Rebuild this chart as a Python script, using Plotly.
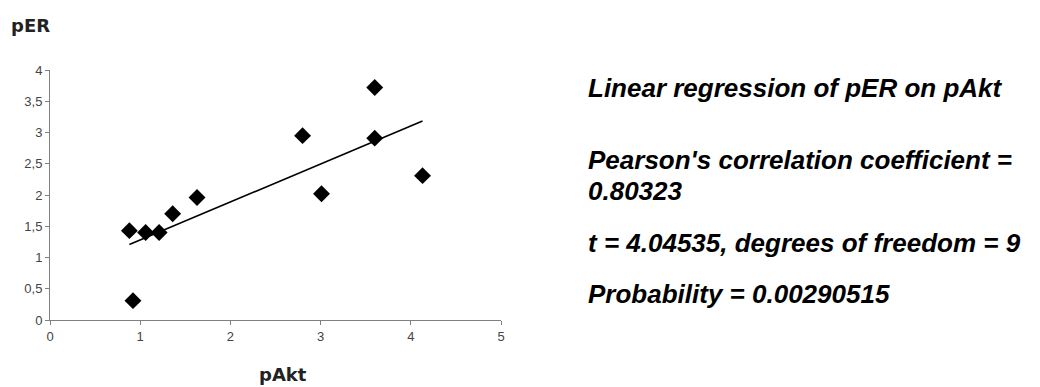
import numpy as np
import plotly.graph_objects as go

# Data
pakt = [0.88, 0.92, 1.06, 1.21, 1.36, 1.63, 2.80, 3.01, 3.60, 3.60, 4.13]
per = [1.43, 0.31, 1.40, 1.40, 1.70, 1.96, 2.95, 2.02, 3.72, 2.91, 2.31]

x_ticks = [0, 1, 2, 3, 4, 5]
y_ticks = [0, 0.5, 1, 1.5, 2, 2.5, 3, 3.5, 4]
y_tick_labels = ["0", "0,5", "1", "1,5", "2", "2,5", "3", "3,5", "4"]

stats_lines = [
    "Linear regression of pER on pAkt",
    "Pearson's correlation coefficient =",
    "0.80323",
    "t = 4.04535, degrees of freedom = 9",
    "Probability = 0.00290515",
]

# Linear trendline fitted on the data (as the spreadsheet trendline does)
slope, intercept = np.polyfit(pakt, per, 1)
tx = [min(pakt), max(pakt)]
ty = [slope * v + intercept for v in tx]

fig = go.Figure()
fig.add_trace(go.Scatter(x=tx, y=ty, mode="lines",
                         line=dict(color="black", width=1.6),
                         showlegend=False, hoverinfo="skip"))
fig.add_trace(go.Scatter(x=pakt, y=per, mode="markers",
                         marker=dict(symbol="diamond", size=13, color="black"),
                         showlegend=False))

axis_common = dict(showgrid=False, zeroline=False, showline=True,
                   linecolor="#808080", linewidth=1, ticks="outside",
                   ticklen=4, tickcolor="#808080",
                   tickfont=dict(family="Liberation Sans, Arial", size=13, color="#444444"))

fig.update_xaxes(range=[0, 5], tickvals=x_ticks, **axis_common)
fig.update_yaxes(range=[0, 4], tickvals=y_ticks, ticktext=y_tick_labels, **axis_common)

# page has an 8px body margin; plot area in page coords: x 50..501, y 70..320
fig.update_layout(
    width=1040, height=387,
    margin=dict(l=42, r=547, t=62, b=75),
    paper_bgcolor="white", plot_bgcolor="white",
)


def px(xp):
    return (xp - 50) / 451


def py(yp):
    return (320 - yp) / 250


title_font = dict(family="DejaVu Sans", size=18, color="#222222")
fig.add_annotation(text="<b>pER</b>", xref="paper", yref="paper",
                   x=px(9), y=py(25), xanchor="left", yanchor="middle",
                   showarrow=False, font=title_font)
fig.add_annotation(text="<b>pAkt</b>", xref="paper", yref="paper",
                   x=px(283), y=py(374), xanchor="center", yanchor="middle",
                   showarrow=False, font=title_font)

text_font = dict(family="Liberation Sans, Arial", size=26, color="black")
ys = [88, 160, 191, 243, 294]
for line, ypix in zip(stats_lines, ys):
    fig.add_annotation(text="<b><i>" + line + "</i></b>", xref="paper", yref="paper",
                       x=px(586), y=py(ypix),
                       xanchor="left", yanchor="middle",
                       showarrow=False, font=text_font)

fig.write_html("out.html")
